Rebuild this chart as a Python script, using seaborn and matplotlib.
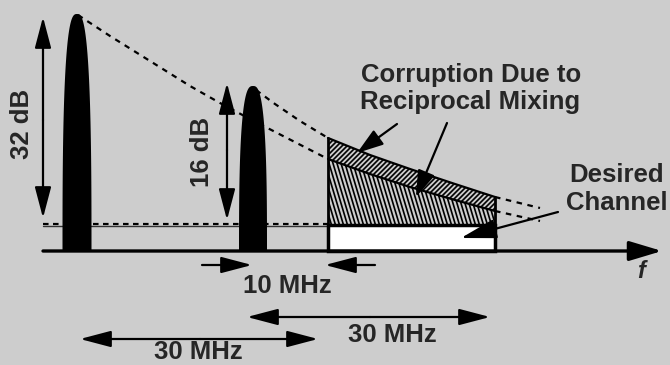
import numpy as np
import pandas as pd
import matplotlib
matplotlib.use("Agg")
import matplotlib.pyplot as plt
import seaborn as sns
from matplotlib.patches import Polygon, Rectangle
from matplotlib.collections import LineCollection

# diagram units: x runs along the f axis, y is the level measured down from the top
blocker_x = [77, 253]
blocker_top = [14, 86]
blocker_halfw = [14.5, 14]
base_y = 251
floor_y = 225
chan_lo, chan_hi = 328, 495

# phase-noise skirts of the two blockers
skirt1_x = [78, 110, 150, 190, 220, 250, 285, 328, 370, 410, 455, 495, 540]
skirt1_y = [15, 36, 61, 86, 103, 119, 137, 159, 174, 187, 200, 211, 221]
skirt2_x = [256, 275, 300, 328, 370, 410, 455, 495, 540]
skirt2_y = [90, 104, 121, 138, 155, 169, 184, 197, 208]

bg = "#cdcdcd"
sns.set_theme(style="white", rc={"axes.facecolor": bg, "figure.facecolor": bg})
plt.rcParams["font.family"] = ["Liberation Sans", "DejaVu Sans"]
FS = 18.5

fig = plt.figure(figsize=(6.7, 3.65), dpi=100)
ax = fig.add_axes([0, 0, 1, 1])
ax.set_xlim(0, 670)
ax.set_ylim(365, 0)
ax.axis("off")


def arrow(p0, p1, style="-|>", hl=0.95, hw=0.25, ms=20, lw=1.6):
    ax.annotate("", xy=p1, xytext=p0, zorder=8,
                arrowprops=dict(arrowstyle=f"{style},head_length={hl},head_width={hw}",
                                mutation_scale=ms, lw=lw, color="black",
                                shrinkA=0, shrinkB=0))


# noise floor
ax.plot([43, chan_lo], [floor_y + 1, floor_y + 1], color="#333333", lw=1)
ax.plot([43, chan_lo], [floor_y - 1, floor_y - 1], color="black", lw=1.6, ls=(0, (2.5, 2)))

# skirts: dashed outside the channel, solid edges inside
s1 = pd.DataFrame({"x": skirt1_x, "y": skirt1_y})
s2 = pd.DataFrame({"x": skirt2_x, "y": skirt2_y})
for df in (s1, s2):
    left = df[df.x <= chan_lo]
    right = df[df.x >= chan_hi]
    mid = df[(df.x >= chan_lo) & (df.x <= chan_hi)]
    for part in (left, right):
        sns.lineplot(data=part, x="x", y="y", sort=False, color="black", lw=1.6,
                     linestyle=(0, (2.5, 2.5)), ax=ax, legend=False)
    ax.plot(mid.x, mid.y, color="black", lw=1.6, zorder=4)

# hatched regions in the channel
m1 = s1[(s1.x >= chan_lo) & (s1.x <= chan_hi)]
m2 = s2[(s2.x >= chan_lo) & (s2.x <= chan_hi)]
upper = Polygon(np.column_stack([np.r_[m2.x, m1.x[::-1]], np.r_[m2.y, m1.y[::-1]]]),
                closed=True, fc="none", ec="none")
lower = Polygon(np.column_stack([np.r_[m1.x, chan_hi, chan_lo], np.r_[m1.y, floor_y, floor_y]]),
                closed=True, fc="none", ec="none")
ax.add_patch(upper)
ax.add_patch(lower)

segs = [[(c, 240), (c + 120, 120)] for c in np.arange(chan_lo - 130, chan_hi + 10, 5)]
lc = LineCollection(segs, colors="black", linewidths=1.2)
ax.add_collection(lc)
lc.set_clip_path(upper)

segs = [[(c, 120), (c + 33, 230)] for c in np.arange(chan_lo - 40, chan_hi + 10, 4)]
lc = LineCollection(segs, colors="black", linewidths=1.2)
ax.add_collection(lc)
lc.set_clip_path(lower)

# desired channel
ax.add_patch(Rectangle((chan_lo, floor_y), chan_hi - chan_lo, base_y - floor_y,
                       fc="white", ec="black", lw=2.5, zorder=5))
ax.plot([chan_lo, chan_lo], [base_y, skirt2_y[skirt2_x.index(chan_lo)]], color="black", lw=2, zorder=5)
ax.plot([chan_hi, chan_hi], [base_y, skirt2_y[skirt2_x.index(chan_hi)]], color="black", lw=2, zorder=5)

# blockers
t = np.linspace(0, np.pi, 200)
n = 2.8
for cx, top, hw in zip(blocker_x, blocker_top, blocker_halfw):
    c, s = np.cos(t), np.sin(t)
    xs = cx + hw * np.sign(c) * np.abs(c) ** (2 / n)
    ys = base_y - (base_y - top) * np.abs(s) ** (2 / n)
    ax.fill(xs, ys, color="black", zorder=6, lw=0)

# frequency axis
arrow((43, base_y), (662, base_y), hl=1.0, hw=0.3, lw=2.4)
ax.text(641, 272, "f", fontsize=17, fontweight="bold", fontstyle="italic",
        ha="center", va="center")

# level arrows
arrow((43, 120), (43, 17))
arrow((43, 120), (43, 218))
ax.text(22, 124, "32 dB", fontsize=FS, fontweight="bold", rotation=90, ha="center", va="center")
arrow((227, 150), (227, 83))
arrow((227, 150), (227, 220))
ax.text(202, 152, "16 dB", fontsize=FS, fontweight="bold", rotation=90, ha="center", va="center")

# spacing arrows
arrow((202, 265), (252, 265))
arrow((375, 265), (325, 265))
ax.text(287, 286, "10 MHz", fontsize=FS, fontweight="bold", ha="center", va="center")
arrow((370, 317), (247, 317))
arrow((370, 317), (490, 317))
ax.text(392, 335, "30 MHz", fontsize=FS, fontweight="bold", ha="center", va="center")
arrow((200, 339), (80, 339))
arrow((200, 339), (318, 339))
ax.text(198, 364, "30 MHz", fontsize=FS, fontweight="bold", ha="center", va="bottom")

# annotations
ax.text(471, 75, "Corruption Due to", fontsize=FS, fontweight="bold", ha="center", va="center")
ax.text(470, 102, "Reciprocal Mixing", fontsize=FS, fontweight="bold", ha="center", va="center")
arrow((397, 124), (357, 153), hl=0.9, hw=0.3, ms=18)
arrow((447, 123), (416, 197), hl=0.9, hw=0.3, ms=18)
ax.text(617, 175, "Desired", fontsize=FS, fontweight="bold", ha="center", va="center")
ax.text(617, 203, "Channel", fontsize=FS, fontweight="bold", ha="center", va="center")
arrow((558, 212), (461, 238), hl=1.1, hw=0.3, ms=20)

fig.savefig("out.png", dpi=100, facecolor=bg)
